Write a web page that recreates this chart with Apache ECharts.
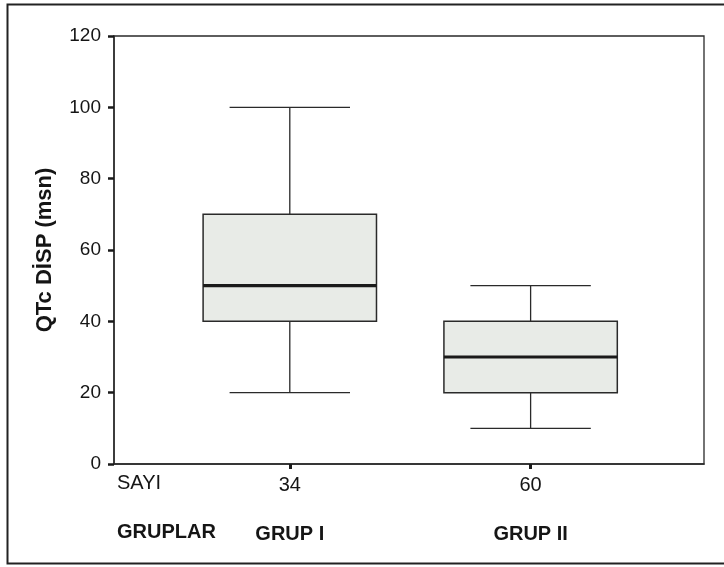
<!DOCTYPE html>
<html>
<head>
<meta charset="utf-8">
<script src="https://cdn.jsdelivr.net/npm/echarts@6/dist/echarts.min.js"></script>
<style>
html,body{margin:0;padding:0;background:#fff;}
#chart{width:724px;height:567px;}
</style>
</head>
<body>
<div id="chart"></div>
<script>
// ---- data ----
const groups = ['GRUP I', 'GRUP II'];
const counts = ['34', '60'];
const positions = [1, 2];
const mins = [20, 10];
const q1s = [40, 20];
const medians = [50, 30];
const q3s = [70, 40];
const maxs = [100, 50];
const yTicks = [0, 20, 40, 60, 80, 100, 120];

const boxData = positions.map((p, i) => [p, mins[i], q1s[i], medians[i], q3s[i], maxs[i]]);

const chart = echarts.init(document.getElementById('chart'), null, {renderer: 'canvas'});
const FONT = '"Liberation Sans", Arial, sans-serif';
const INK = '#151515';

function renderBox(params, api) {
  const x = api.value(0);
  const vMin = api.value(1), vQ1 = api.value(2), vMed = api.value(3), vQ3 = api.value(4), vMax = api.value(5);
  const boxHalf = api.size([0.36, 0])[0];
  const capHalf = api.size([0.25, 0])[0];
  const pMin = api.coord([x, vMin]);
  const pQ1 = api.coord([x, vQ1]);
  const pMed = api.coord([x, vMed]);
  const pQ3 = api.coord([x, vQ3]);
  const pMax = api.coord([x, vMax]);
  const cx = pMed[0];
  const thin = {stroke: '#2a2a2a', lineWidth: 1.3};
  return {
    type: 'group',
    children: [
      {type: 'line', shape: {x1: cx, y1: pMax[1], x2: cx, y2: pQ3[1]}, style: thin},
      {type: 'line', shape: {x1: cx, y1: pQ1[1], x2: cx, y2: pMin[1]}, style: thin},
      {type: 'line', shape: {x1: cx - capHalf, y1: pMax[1], x2: cx + capHalf, y2: pMax[1]}, style: thin},
      {type: 'line', shape: {x1: cx - capHalf, y1: pMin[1], x2: cx + capHalf, y2: pMin[1]}, style: thin},
      {type: 'rect', shape: {x: cx - boxHalf, y: pQ3[1], width: boxHalf * 2, height: pQ1[1] - pQ3[1]},
        style: {fill: '#e8ebe7', stroke: '#2a2a2a', lineWidth: 1.5}},
      {type: 'line', shape: {x1: cx - boxHalf, y1: pMed[1], x2: cx + boxHalf, y2: pMed[1]},
        style: {stroke: '#1a1a1a', lineWidth: 3.2}}
    ]
  };
}

const xMin = 0.27, xMax = 2.72;

const option = {
  backgroundColor: '#ffffff',
  animation: false,
  grid: {left: 114, top: 36, right: 20, bottom: 103, show: true, borderColor: '#2a2a2a', borderWidth: 1.3, backgroundColor: 'transparent'},
  xAxis: [
    {
      type: 'value', min: xMin, max: xMax, position: 'bottom',
      splitLine: {show: false},
      axisLine: {show: true, onZero: false, lineStyle: {color: '#2a2a2a', width: 1.5}},
      axisTick: {show: true, customValues: positions, length: 5, inside: false, lineStyle: {color: '#1a1a1a', width: 3}},
      axisLabel: {show: true, customValues: positions, margin: 11, fontFamily: FONT, fontSize: 20, color: INK,
        formatter: function (v) { const i = positions.indexOf(Math.round(v)); return i >= 0 ? counts[i] : ''; }}
    },
    {
      type: 'value', min: xMin, max: xMax, position: 'bottom', offset: 49,
      splitLine: {show: false},
      axisLine: {show: false},
      axisTick: {show: false},
      axisLabel: {show: true, customValues: positions, margin: 11, fontFamily: FONT, fontSize: 20, fontWeight: 'bold', color: INK,
        formatter: function (v) { const i = positions.indexOf(Math.round(v)); return i >= 0 ? groups[i] : ''; }}
    }
  ],
  yAxis: {
    type: 'value', min: 0, max: 120, interval: 20,
    name: 'QTc DİSP (msn)', nameLocation: 'middle', nameGap: 58,
    nameTextStyle: {fontFamily: FONT, fontSize: 22, fontWeight: 'bold', color: INK},
    splitLine: {show: false},
    axisLine: {show: true, lineStyle: {color: '#2a2a2a', width: 1.5}},
    axisTick: {show: true, length: 6, lineStyle: {color: '#1a1a1a', width: 2.5}},
    axisLabel: {margin: 13, fontFamily: FONT, fontSize: 19, color: INK,
      formatter: function (v) { return yTicks.indexOf(v) >= 0 ? String(v) : ''; }}
  },
  graphic: [
    {type: 'rect', left: 5, top: 2, shape: {width: 740, height: 559}, style: {fill: 'none', stroke: '#222', lineWidth: 2}, silent: true, z: -1},
    {type: 'text', left: 117, top: 473, style: {text: 'SAYI', font: '20px "Liberation Sans", Arial, sans-serif', fill: INK}},
    {type: 'text', left: 117, top: 522, style: {text: 'GRUPLAR', font: 'bold 20px "Liberation Sans", Arial, sans-serif', fill: INK}}
  ],
  series: [
    {
      type: 'custom',
      xAxisIndex: 0,
      renderItem: renderBox,
      encode: {x: 0, y: [1, 2, 3, 4, 5]},
      data: boxData,
      clip: false
    }
  ]
};
chart.setOption(option);
</script>
</body>
</html>
